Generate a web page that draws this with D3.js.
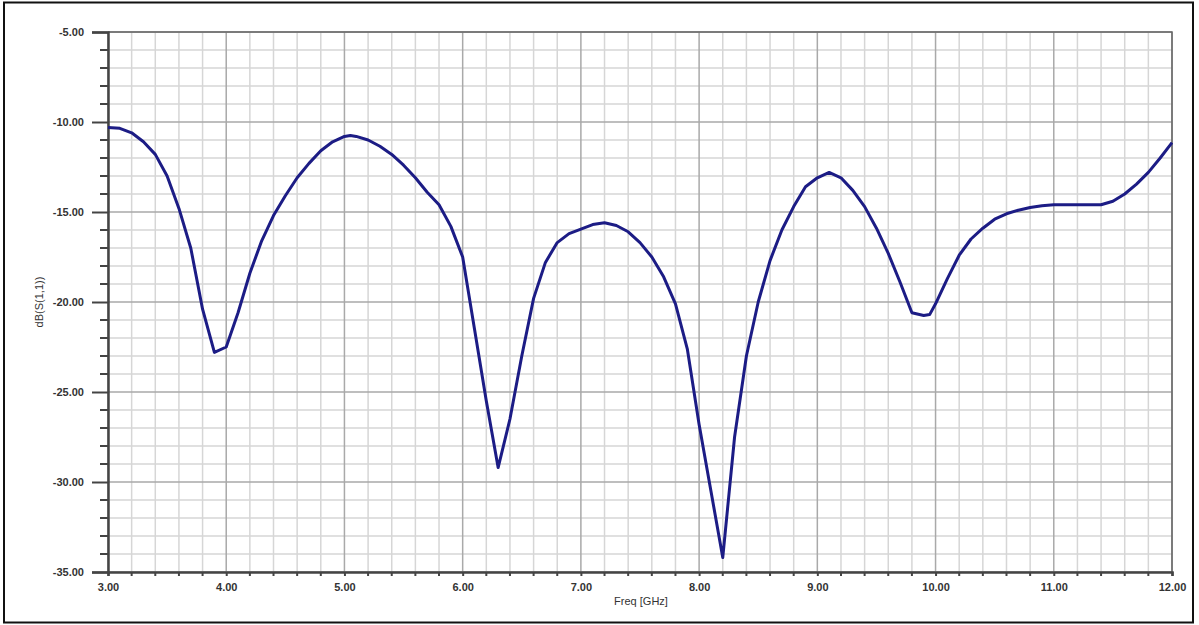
<!DOCTYPE html>
<html>
<head>
<meta charset="utf-8">
<script src="https://cdn.jsdelivr.net/npm/d3@7"></script>
<style>
  body { margin: 0; background: #fff; }
  text { font-family: "Liberation Sans", Arial, sans-serif; }
</style>
</head>
<body>
<svg id="chart"></svg>
<script>
// S11 curve
var freq = [3.0, 3.1, 3.2, 3.3, 3.4, 3.5, 3.6, 3.7, 3.8, 3.9, 4.0, 4.1, 4.2, 4.3, 4.4, 4.5, 4.6, 4.7, 4.8, 4.9,
            5.0, 5.05, 5.1, 5.2, 5.3, 5.4, 5.5, 5.6, 5.7, 5.8, 5.9, 6.0, 6.1, 6.2, 6.3, 6.4, 6.5, 6.6, 6.7, 6.8,
            6.9, 7.0, 7.1, 7.2, 7.3, 7.4, 7.5, 7.6, 7.7, 7.8, 7.9, 8.0, 8.1, 8.2, 8.3, 8.4, 8.5, 8.6, 8.7, 8.8,
            8.9, 9.0, 9.1, 9.2, 9.3, 9.4, 9.5, 9.6, 9.7, 9.8, 9.9, 9.95, 10.0, 10.1, 10.2, 10.3, 10.4, 10.5, 10.6, 10.7,
            10.8, 10.9, 11.0, 11.1, 11.2, 11.3, 11.4, 11.5, 11.6, 11.7, 11.8, 11.9, 12.0];
var s11 = [-10.3, -10.35, -10.6, -11.1, -11.8, -13.0, -14.8, -17.0, -20.4, -22.8, -22.5, -20.6, -18.4, -16.6, -15.2, -14.1, -13.1, -12.3, -11.6, -11.1,
           -10.8, -10.75, -10.8, -11.0, -11.35, -11.8, -12.4, -13.1, -13.9, -14.6, -15.8, -17.5, -21.5, -25.5, -29.2, -26.5, -23.0, -19.8, -17.8, -16.7,
           -16.2, -15.95, -15.7, -15.6, -15.75, -16.1, -16.7, -17.5, -18.6, -20.1, -22.6, -26.8, -30.5, -34.2, -27.5, -23.0, -20.0, -17.7, -16.0, -14.7,
           -13.6, -13.1, -12.8, -13.1, -13.8, -14.7, -15.9, -17.3, -18.9, -20.6, -20.75, -20.7, -20.1, -18.7, -17.4, -16.5, -15.9, -15.4, -15.1, -14.9,
           -14.75, -14.65, -14.6, -14.6, -14.6, -14.6, -14.6, -14.4, -14.0, -13.45, -12.8, -12.0, -11.15];

var xTicks = [3, 4, 5, 6, 7, 8, 9, 10, 11, 12];
var yTicks = [-5, -10, -15, -20, -25, -30, -35];

var width = 1199;
var height = 625;
var margin = {"top": 32, "right": 27, "bottom": 53, "left": 108};

var svg = d3.select("svg#chart")
    .attr("width", width)
    .attr("height", height);

// outer frame
svg.append("rect")
    .attr("x", 4).attr("y", 2.5)
    .attr("width", 1189).attr("height", 620)
    .attr("fill", "none")
    .attr("stroke", "#111")
    .attr("stroke-width", 2);

var x = d3.scaleLinear().domain([3, 12]).range([margin.left, width - margin.right]);
var y = d3.scaleLinear().domain([-35, -5]).range([height - margin.bottom, margin.top]);

// plain hyphen instead of d3's unicode minus
var fmt = function(d) { return d.toFixed(2); };

var minorX = d3.range(3, 12.001, 0.2).filter(function(d) { return Math.abs(d - Math.round(d)) > 0.01; });
var minorY = d3.range(-35, -4.999, 1).filter(function(d) { return d % 5 !== 0; });

var grid = svg.append("g");

grid.selectAll(".mx").data(minorX).enter().append("line")
    .attr("x1", function(d) { return x(d); }).attr("x2", function(d) { return x(d); })
    .attr("y1", y(-5)).attr("y2", y(-35))
    .attr("stroke", "#d6d6d6").attr("stroke-width", 1.5);

grid.selectAll(".my").data(minorY).enter().append("line")
    .attr("y1", function(d) { return y(d); }).attr("y2", function(d) { return y(d); })
    .attr("x1", x(3)).attr("x2", x(12))
    .attr("stroke", "#d6d6d6").attr("stroke-width", 1.5);

grid.selectAll(".Mx").data(xTicks).enter().append("line")
    .attr("x1", function(d) { return x(d); }).attr("x2", function(d) { return x(d); })
    .attr("y1", y(-5)).attr("y2", y(-35))
    .attr("stroke", "#a9a9a9").attr("stroke-width", 1.5);

grid.selectAll(".My").data(yTicks).enter().append("line")
    .attr("y1", function(d) { return y(d); }).attr("y2", function(d) { return y(d); })
    .attr("x1", x(3)).attr("x2", x(12))
    .attr("stroke", "#a9a9a9").attr("stroke-width", 1.5);

// plot border top / right
svg.append("path")
    .attr("d", "M" + x(3) + "," + y(-5) + "H" + x(12) + "V" + y(-35))
    .attr("fill", "none").attr("stroke", "#666").attr("stroke-width", 1.5);

// y axis
var yAxis = svg.append("g")
    .attr("transform", "translate(" + x(3) + ",0)")
    .call(d3.axisLeft(y).tickValues(yTicks).tickSize(16).tickPadding(8).tickFormat(fmt));
yAxis.append("g").selectAll("line").data(minorY).enter().append("line")
    .attr("x1", -8).attr("x2", 0)
    .attr("y1", function(d) { return y(d); }).attr("y2", function(d) { return y(d); })
    .attr("stroke", "#444").attr("stroke-width", 2);

// x axis
var xAxis = svg.append("g")
    .attr("transform", "translate(0," + y(-35) + ")")
    .call(d3.axisBottom(x).tickValues(xTicks).tickSize(4).tickPadding(7).tickFormat(fmt));
xAxis.append("g").selectAll("line").data(minorX).enter().append("line")
    .attr("x1", function(d) { return x(d); }).attr("x2", function(d) { return x(d); })
    .attr("y1", 0).attr("y2", 4)
    .attr("stroke", "#444").attr("stroke-width", 2);

[yAxis, xAxis].forEach(function(a) {
    a.select(".domain").attr("stroke", "#444").attr("stroke-width", 2.5);
    a.selectAll(".tick line").attr("stroke", "#444").attr("stroke-width", 2);
    a.selectAll(".tick text")
        .attr("fill", "#333")
        .style("font-size", "11px")
        .style("font-weight", "bold")
        .style("font-family", "'Liberation Sans', Arial, sans-serif");
});
yAxis.selectAll(".tick text").attr("dy", "0.35em");

// axis titles
svg.append("text")
    .attr("x", 641).attr("y", 605)
    .attr("text-anchor", "middle")
    .attr("fill", "#333")
    .style("font-size", "11px")
    .text("Freq [GHz]");

svg.append("text")
    .attr("transform", "translate(43,302) rotate(-90)")
    .attr("text-anchor", "middle")
    .attr("fill", "#333")
    .style("font-size", "11px")
    .text("dB(S(1,1))");

// curve
var pts = freq.map(function(f, i) { return [f, s11[i]]; });
svg.append("path")
    .datum(pts)
    .attr("fill", "none")
    .attr("stroke", "#1c1c85")
    .attr("stroke-width", 3)
    .attr("stroke-linejoin", "round")
    .attr("d", d3.line()
        .x(function(d) { return x(d[0]); })
        .y(function(d) { return y(d[1]); }));
</script>
</body>
</html>
